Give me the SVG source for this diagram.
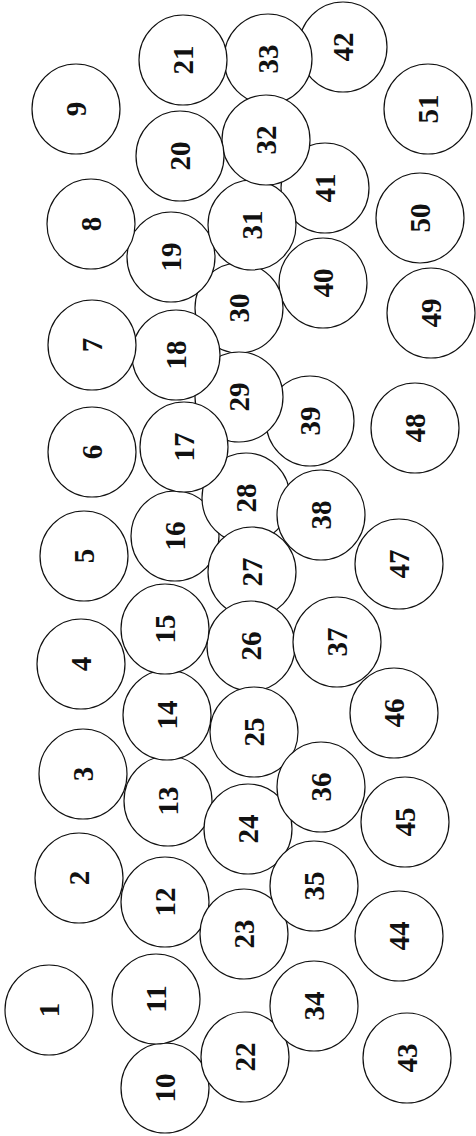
<svg xmlns="http://www.w3.org/2000/svg" width="476" height="1136" viewBox="0 0 476 1136">
<style>
.c{fill:#fff;stroke:#111;stroke-width:1.2}
.t{font-family:"Liberation Serif","Times New Roman",serif;font-weight:bold;font-size:29px;fill:#111;text-anchor:middle}
</style>
<rect width="476" height="1136" fill="#fff"/>
<g id="connectors"></g>
<g id="n42"><ellipse class="c" cx="343" cy="47" rx="44" ry="45"/><text class="t" transform="translate(343,47) rotate(-90)" y="10">42</text></g>
<g id="n33"><ellipse class="c" cx="268" cy="59" rx="44" ry="45"/><text class="t" transform="translate(268,59) rotate(-90)" y="10">33</text></g>
<g id="n41"><ellipse class="c" cx="325" cy="188" rx="44" ry="45"/><text class="t" transform="translate(325,188) rotate(-90)" y="10">41</text></g>
<g id="n40"><ellipse class="c" cx="323" cy="283" rx="44" ry="45"/><text class="t" transform="translate(323,283) rotate(-90)" y="10">40</text></g>
<g id="n30"><ellipse class="c" cx="239" cy="308" rx="44" ry="45"/><text class="t" transform="translate(239,308) rotate(-90)" y="10">30</text></g>
<g id="n19"><ellipse class="c" cx="171" cy="257" rx="44" ry="45"/><text class="t" transform="translate(171,257) rotate(-90)" y="10">19</text></g>
<g id="n31"><ellipse class="c" cx="252" cy="225" rx="44" ry="45"/><text class="t" transform="translate(252,225) rotate(-90)" y="10">31</text></g>
<g id="n32"><ellipse class="c" cx="266" cy="140" rx="44" ry="45"/><text class="t" transform="translate(266,140) rotate(-90)" y="10">32</text></g>
<g id="n39"><ellipse class="c" cx="310" cy="421" rx="44" ry="45"/><text class="t" transform="translate(310,421) rotate(-90)" y="10">39</text></g>
<g id="n29"><ellipse class="c" cx="239" cy="397" rx="44" ry="45"/><text class="t" transform="translate(239,397) rotate(-90)" y="10">29</text></g>
<g id="n18"><ellipse class="c" cx="176" cy="355" rx="44" ry="45"/><text class="t" transform="translate(176,355) rotate(-90)" y="10">18</text></g>
<g id="n16"><ellipse class="c" cx="175" cy="536" rx="44" ry="45"/><text class="t" transform="translate(175,536) rotate(-90)" y="10">16</text></g>
<g id="n28"><ellipse class="c" cx="246" cy="498" rx="44" ry="45"/><text class="t" transform="translate(246,498) rotate(-90)" y="10">28</text></g>
<g id="n17"><ellipse class="c" cx="184" cy="447" rx="44" ry="45"/><text class="t" transform="translate(184,447) rotate(-90)" y="10">17</text></g>
<g id="n27"><ellipse class="c" cx="252" cy="572" rx="44" ry="45"/><text class="t" transform="translate(252,572) rotate(-90)" y="10">27</text></g>
<g id="n26"><ellipse class="c" cx="251" cy="646" rx="44" ry="45"/><text class="t" transform="translate(251,646) rotate(-90)" y="10">26</text></g>
<g id="n1"><ellipse class="c" cx="49" cy="1010" rx="44" ry="45"/><text class="t" transform="translate(49,1010) rotate(-90)" y="10">1</text></g>
<g id="n2"><ellipse class="c" cx="79" cy="878" rx="44" ry="45"/><text class="t" transform="translate(79,878) rotate(-90)" y="10">2</text></g>
<g id="n3"><ellipse class="c" cx="83" cy="774" rx="44" ry="45"/><text class="t" transform="translate(83,774) rotate(-90)" y="10">3</text></g>
<g id="n4"><ellipse class="c" cx="81" cy="664" rx="44" ry="45"/><text class="t" transform="translate(81,664) rotate(-90)" y="10">4</text></g>
<g id="n5"><ellipse class="c" cx="84" cy="556" rx="44" ry="45"/><text class="t" transform="translate(84,556) rotate(-90)" y="10">5</text></g>
<g id="n6"><ellipse class="c" cx="92" cy="452" rx="44" ry="45"/><text class="t" transform="translate(92,452) rotate(-90)" y="10">6</text></g>
<g id="n7"><ellipse class="c" cx="92" cy="345" rx="44" ry="45"/><text class="t" transform="translate(92,345) rotate(-90)" y="10">7</text></g>
<g id="n8"><ellipse class="c" cx="91" cy="224" rx="44" ry="45"/><text class="t" transform="translate(91,224) rotate(-90)" y="10">8</text></g>
<g id="n9"><ellipse class="c" cx="76" cy="109" rx="44" ry="45"/><text class="t" transform="translate(76,109) rotate(-90)" y="10">9</text></g>
<g id="n10"><ellipse class="c" cx="165" cy="1088" rx="44" ry="45"/><text class="t" transform="translate(165,1088) rotate(-90)" y="10">10</text></g>
<g id="n11"><ellipse class="c" cx="156" cy="999" rx="44" ry="45"/><text class="t" transform="translate(156,999) rotate(-90)" y="10">11</text></g>
<g id="n12"><ellipse class="c" cx="165" cy="902" rx="44" ry="45"/><text class="t" transform="translate(165,902) rotate(-90)" y="10">12</text></g>
<g id="n13"><ellipse class="c" cx="168" cy="801" rx="44" ry="45"/><text class="t" transform="translate(168,801) rotate(-90)" y="10">13</text></g>
<g id="n14"><ellipse class="c" cx="167" cy="715" rx="44" ry="45"/><text class="t" transform="translate(167,715) rotate(-90)" y="10">14</text></g>
<g id="n15"><ellipse class="c" cx="165" cy="629" rx="44" ry="45"/><text class="t" transform="translate(165,629) rotate(-90)" y="10">15</text></g>
<g id="n20"><ellipse class="c" cx="180" cy="156" rx="44" ry="45"/><text class="t" transform="translate(180,156) rotate(-90)" y="10">20</text></g>
<g id="n21"><ellipse class="c" cx="183" cy="60" rx="44" ry="45"/><text class="t" transform="translate(183,60) rotate(-90)" y="10">21</text></g>
<g id="n22"><ellipse class="c" cx="245" cy="1057" rx="44" ry="45"/><text class="t" transform="translate(245,1057) rotate(-90)" y="10">22</text></g>
<g id="n23"><ellipse class="c" cx="244" cy="934" rx="44" ry="45"/><text class="t" transform="translate(244,934) rotate(-90)" y="10">23</text></g>
<g id="n24"><ellipse class="c" cx="248" cy="829" rx="44" ry="45"/><text class="t" transform="translate(248,829) rotate(-90)" y="10">24</text></g>
<g id="n25"><ellipse class="c" cx="254" cy="732" rx="44" ry="45"/><text class="t" transform="translate(254,732) rotate(-90)" y="10">25</text></g>
<g id="n34"><ellipse class="c" cx="314" cy="1006" rx="44" ry="45"/><text class="t" transform="translate(314,1006) rotate(-90)" y="10">34</text></g>
<g id="n35"><ellipse class="c" cx="314" cy="886" rx="44" ry="45"/><text class="t" transform="translate(314,886) rotate(-90)" y="10">35</text></g>
<g id="n36"><ellipse class="c" cx="321" cy="787" rx="44" ry="45"/><text class="t" transform="translate(321,787) rotate(-90)" y="10">36</text></g>
<g id="n37"><ellipse class="c" cx="337" cy="642" rx="44" ry="45"/><text class="t" transform="translate(337,642) rotate(-90)" y="10">37</text></g>
<g id="n38"><ellipse class="c" cx="321" cy="515" rx="44" ry="45"/><text class="t" transform="translate(321,515) rotate(-90)" y="10">38</text></g>
<g id="n43"><ellipse class="c" cx="407" cy="1058" rx="44" ry="45"/><text class="t" transform="translate(407,1058) rotate(-90)" y="10">43</text></g>
<g id="n44"><ellipse class="c" cx="399" cy="936" rx="44" ry="45"/><text class="t" transform="translate(399,936) rotate(-90)" y="10">44</text></g>
<g id="n45"><ellipse class="c" cx="405" cy="822" rx="44" ry="45"/><text class="t" transform="translate(405,822) rotate(-90)" y="10">45</text></g>
<g id="n46"><ellipse class="c" cx="394" cy="713" rx="44" ry="45"/><text class="t" transform="translate(394,713) rotate(-90)" y="10">46</text></g>
<g id="n47"><ellipse class="c" cx="399" cy="564" rx="44" ry="45"/><text class="t" transform="translate(399,564) rotate(-90)" y="10">47</text></g>
<g id="n48"><ellipse class="c" cx="415" cy="428" rx="44" ry="45"/><text class="t" transform="translate(415,428) rotate(-90)" y="10">48</text></g>
<g id="n49"><ellipse class="c" cx="431" cy="313" rx="44" ry="45"/><text class="t" transform="translate(431,313) rotate(-90)" y="10">49</text></g>
<g id="n50"><ellipse class="c" cx="420" cy="218" rx="44" ry="45"/><text class="t" transform="translate(420,218) rotate(-90)" y="10">50</text></g>
<g id="n51"><ellipse class="c" cx="428" cy="109" rx="44" ry="45"/><text class="t" transform="translate(428,109) rotate(-90)" y="10">51</text></g>
</svg>
